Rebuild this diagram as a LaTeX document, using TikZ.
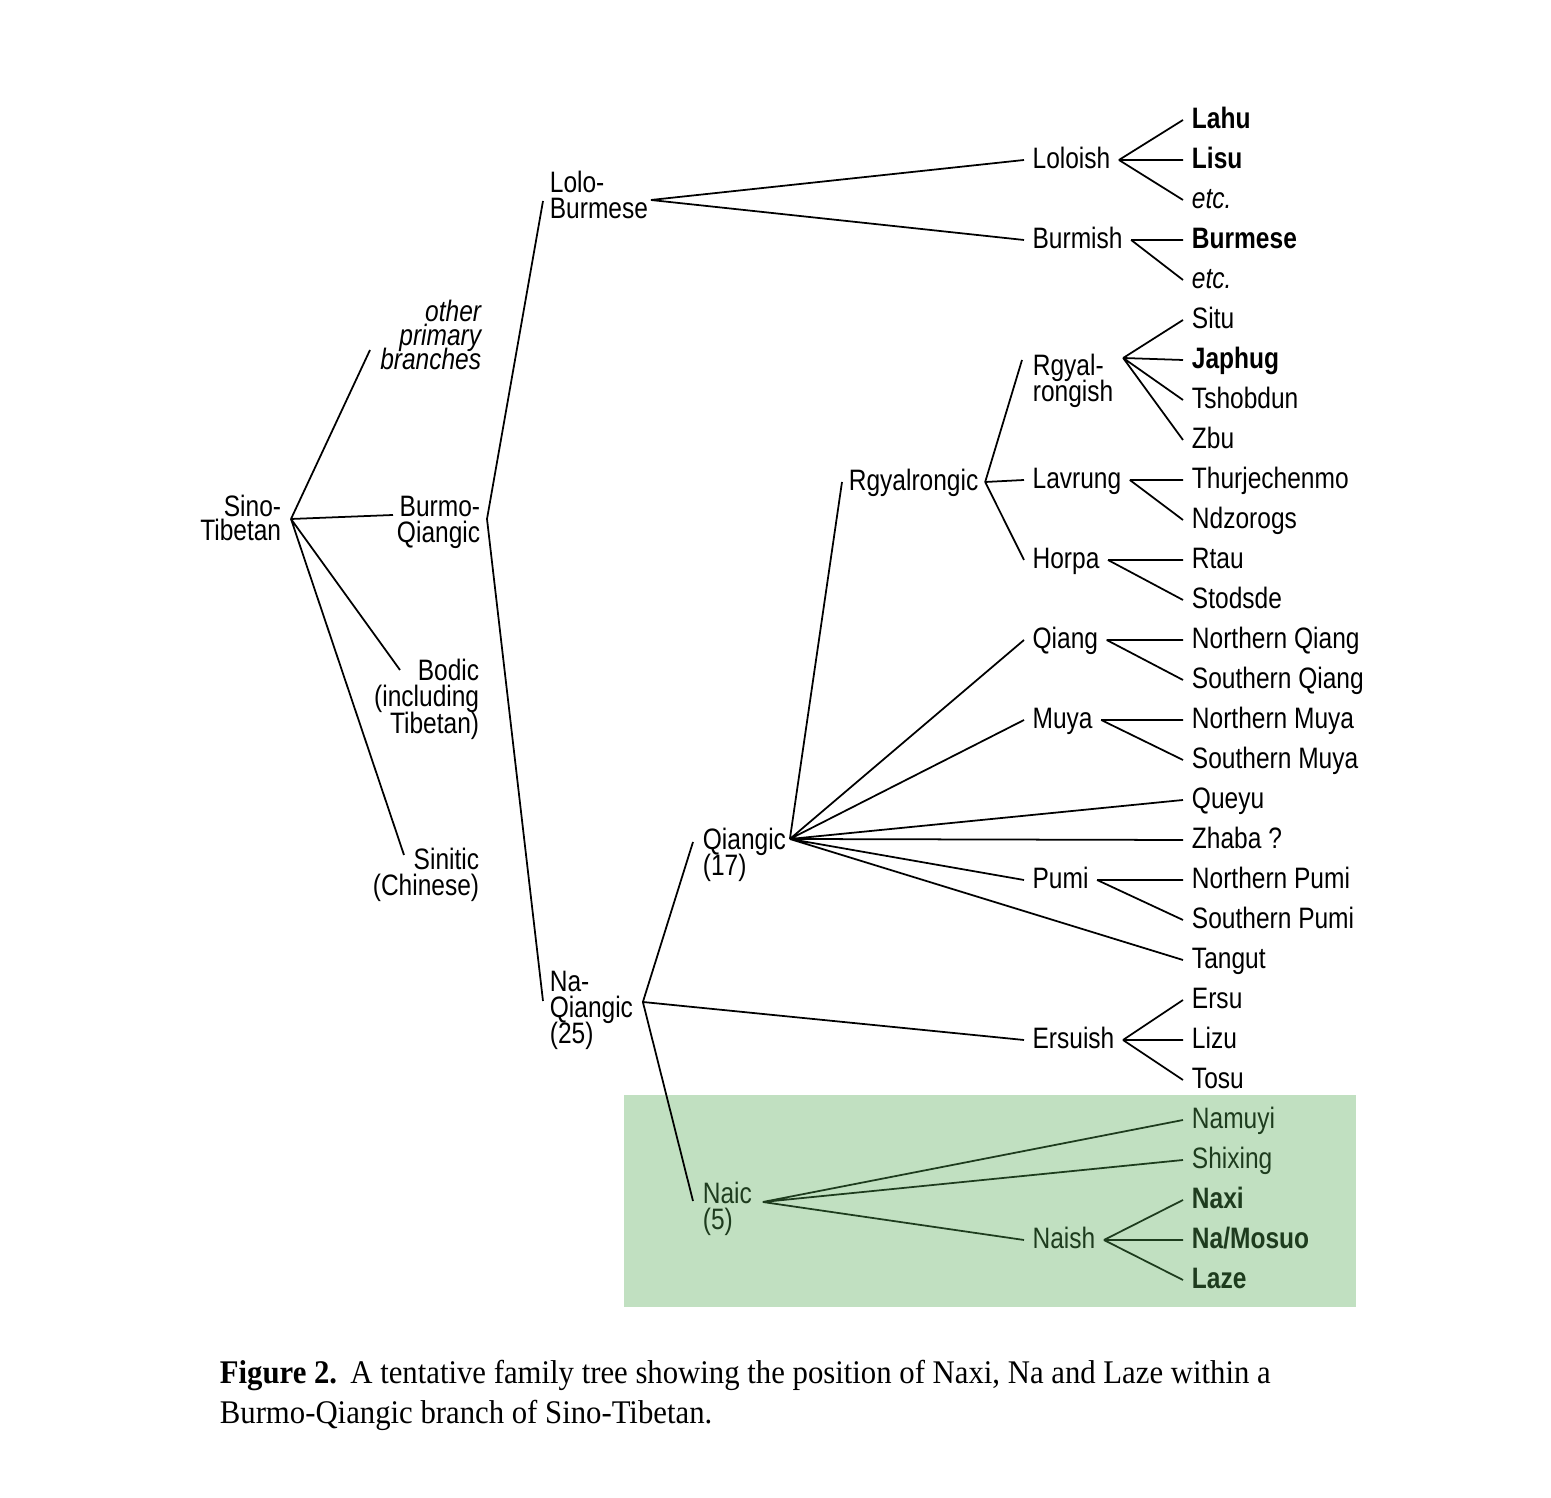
\documentclass[tikz,border=0pt]{standalone}
\usepackage{fontspec}
\setmainfont[FakeStretch=0.83]{Liberation Sans}
\newfontfamily\capfont[FakeStretch=0.93]{Liberation Serif}
\usetikzlibrary{calc}
\definecolor{naicfill}{RGB}{193,224,193}
\definecolor{naicgreen}{RGB}{30,60,30}
\newcommand\treefont{\fontsize{8.4}{7.5}\selectfont\lineskiplimit=-20pt}

\begin{document}
\begin{tikzpicture}[
    x=0.01cm, y=-0.01cm, line width=0.5pt,
    leaf/.style={anchor=west, inner xsep=2.3pt, inner ysep=0pt, text height=6pt, text depth=1pt, font=\treefont},
    branch/.style={leaf, inner xsep=2.2pt},
    stack/.style={inner sep=0pt, font=\treefont},
    nagreen/.style={text=naicgreen}
]
\useasboundingbox (0,0) rectangle (1551,1498);
\fill[naicfill] (624,1095) rectangle (1356,1307);

% upper levels
\node[stack, align=right, anchor=north east, font={\fontsize{8.4}{7}\selectfont\lineskiplimit=-20pt}] (sinotib) at (282,494) {Sino-\\Tibetan};
\node[stack, align=right, anchor=north east, font={\fontsize{8.4}{6.9}\selectfont\lineskiplimit=-20pt\itshape}] (other) at (482,299) {other\\primary\\branches};
\node[stack, align=right, anchor=north east] (burmoq) at (481,495) {Burmo-\\Qiangic};
\node[stack, align=right, anchor=north east] (bodic) at (480,658) {Bodic\\(including\\Tibetan)};
\node[stack, align=right, anchor=north east] (sinitic) at (480,847) {Sinitic\\(Chinese)};
\node[stack, align=left, anchor=north west] (lolob) at (549,170) {Lolo-\\Burmese};
\node[stack, align=left, anchor=north west] (naqiang) at (549,970) {Na-\\Qiangic\\(25)};
\node[stack, align=left, anchor=north west] (qiangic) at (702,827) {Qiangic\\(17)};
\node[stack, align=left, anchor=north west, nagreen] (naic) at (702,1181) {Naic\\(5)};
\node[branch, inner xsep=1.7pt] (rgyalrongic) at (842,482) {Rgyalrongic};
\node[stack, align=left, anchor=north west] (rgyalrongish) at (1032,353) {Rgyal-\\rongish};

% subgroups
\node[branch] (loloish) at (1024,160) {Loloish};
\node[branch] (burmish) at (1024,240) {Burmish};
\node[branch] (lavrung) at (1024,480) {Lavrung};
\node[branch] (horpa) at (1024,560) {Horpa};
\node[branch] (qiang) at (1024,640) {Qiang};
\node[branch] (muya) at (1024,720) {Muya};
\node[branch] (pumi) at (1024,880) {Pumi};
\node[branch] (ersuish) at (1024,1040) {Ersuish};
\node[branch, nagreen] (naish) at (1024,1240) {Naish};

% languages
\node[leaf] (lahu) at (1183,120) {\textbf{Lahu}};
\node[leaf] (lisu) at (1183,160) {\textbf{Lisu}};
\node[leaf] (etcA) at (1183,200) {\textit{etc.}};
\node[leaf] (burmese) at (1183,240) {\textbf{Burmese}};
\node[leaf] (etcB) at (1183,280) {\textit{etc.}};
\node[leaf] (situ) at (1183,320) {Situ};
\node[leaf] (japhug) at (1183,360) {\textbf{Japhug}};
\node[leaf] (tshobdun) at (1183,400) {Tshobdun};
\node[leaf] (zbu) at (1183,440) {Zbu};
\node[leaf] (thurj) at (1183,480) {Thurjechenmo};
\node[leaf] (ndzorogs) at (1183,520) {Ndzorogs};
\node[leaf] (rtau) at (1183,560) {Rtau};
\node[leaf] (stodsde) at (1183,600) {Stodsde};
\node[leaf] (nqiang) at (1183,640) {Northern Qiang};
\node[leaf] (sqiang) at (1183,680) {Southern Qiang};
\node[leaf] (nmuya) at (1183,720) {Northern Muya};
\node[leaf] (smuya) at (1183,760) {Southern Muya};
\node[leaf] (queyu) at (1183,800) {Queyu};
\node[leaf] (zhaba) at (1183,840) {Zhaba ?};
\node[leaf] (npumi) at (1183,880) {Northern Pumi};
\node[leaf] (spumi) at (1183,920) {Southern Pumi};
\node[leaf] (tangut) at (1183,960) {Tangut};
\node[leaf] (ersu) at (1183,1000) {Ersu};
\node[leaf] (lizu) at (1183,1040) {Lizu};
\node[leaf] (tosu) at (1183,1080) {Tosu};
\node[leaf, nagreen] (namuyi) at (1183,1120) {Namuyi};
\node[leaf, nagreen] (shixing) at (1183,1160) {Shixing};
\node[leaf, nagreen] (naxi) at (1183,1200) {\textbf{Naxi}};
\node[leaf, nagreen] (namosuo) at (1183,1240) {\textbf{Na/Mosuo}};
\node[leaf, nagreen] (laze) at (1183,1280) {\textbf{Laze}};

% branches
\draw ($(sinotib.north east)+(9,25)$) -- ($(other.north east)+(-112,51)$)
      ($(sinotib.north east)+(9,25)$) -- ($(burmoq.north east)+(-88,20)$)
      ($(sinotib.north east)+(9,25)$) -- ($(bodic.north east)+(-80,12)$)
      ($(sinotib.north east)+(9,25)$) -- ($(sinitic.north east)+(-76,8)$);
\draw ($(burmoq.north east)+(6,24)$) -- ($(lolob.north west)+(-6,31)$)
      ($(burmoq.north east)+(6,24)$) -- ($(naqiang.north west)+(-6,31)$);
\draw ($(lolob.north east)+(2,30)$) -- (loloish.west)
      ($(lolob.north east)+(2,30)$) -- (burmish.west);
\draw (loloish.east) -- (lahu.west) (loloish.east) -- (lisu.west) (loloish.east) -- (etcA.west);
\draw (burmish.east) -- (burmese.west) (burmish.east) -- (etcB.west);
\draw ($(naqiang.north east)+(9,32)$) -- ($(qiangic.north west)+(-9,15)$)
      ($(naqiang.north east)+(9,32)$) -- (ersuish.west)
      ($(naqiang.north east)+(9,32)$) -- ($(naic.north west)+(-9,20)$);
\draw ($(qiangic.north east)+(3,12)$) -- (rgyalrongic.west)
      ($(qiangic.north east)+(3,12)$) -- (qiang.west)
      ($(qiangic.north east)+(3,12)$) -- (muya.west)
      ($(qiangic.north east)+(3,12)$) -- (queyu.west)
      ($(qiangic.north east)+(3,12)$) -- (zhaba.west)
      ($(qiangic.north east)+(3,12)$) -- (pumi.west)
      ($(qiangic.north east)+(3,12)$) -- (tangut.west);
\draw (rgyalrongic.east) -- ($(rgyalrongish.north west)+(-10,7)$)
      (rgyalrongic.east) -- (lavrung.west)
      (rgyalrongic.east) -- (horpa.west);
\draw ($(rgyalrongish.north east)+(9,5)$) -- (situ.west)
      ($(rgyalrongish.north east)+(9,5)$) -- (japhug.west)
      ($(rgyalrongish.north east)+(9,5)$) -- (tshobdun.west)
      ($(rgyalrongish.north east)+(9,5)$) -- (zbu.west);
\draw (lavrung.east) -- (thurj.west) (lavrung.east) -- (ndzorogs.west);
\draw (horpa.east) -- (rtau.west) (horpa.east) -- (stodsde.west);
\draw (qiang.east) -- (nqiang.west) (qiang.east) -- (sqiang.west);
\draw (muya.east) -- (nmuya.west) (muya.east) -- (smuya.west);
\draw (pumi.east) -- (npumi.west) (pumi.east) -- (spumi.west);
\draw (ersuish.east) -- (ersu.west) (ersuish.east) -- (lizu.west) (ersuish.east) -- (tosu.west);
\draw[naicgreen] ($(naic.north east)+(10,21)$) -- (namuyi.west)
      ($(naic.north east)+(10,21)$) -- (shixing.west)
      ($(naic.north east)+(10,21)$) -- (naish.west);
\draw[naicgreen] (naish.east) -- (naxi.west) (naish.east) -- (namosuo.west) (naish.east) -- (laze.west);

% caption
\node[anchor=north west, inner sep=0pt, align=left, font={\capfont\fontsize{9.4}{11.4}\selectfont}] (caption) at (219,1359)
  {\textbf{Figure 2.}\hspace{0.4em}A tentative family tree showing the position of Naxi, Na and Laze within a\\Burmo-Qiangic branch of Sino-Tibetan.};
\end{tikzpicture}
\end{document}
